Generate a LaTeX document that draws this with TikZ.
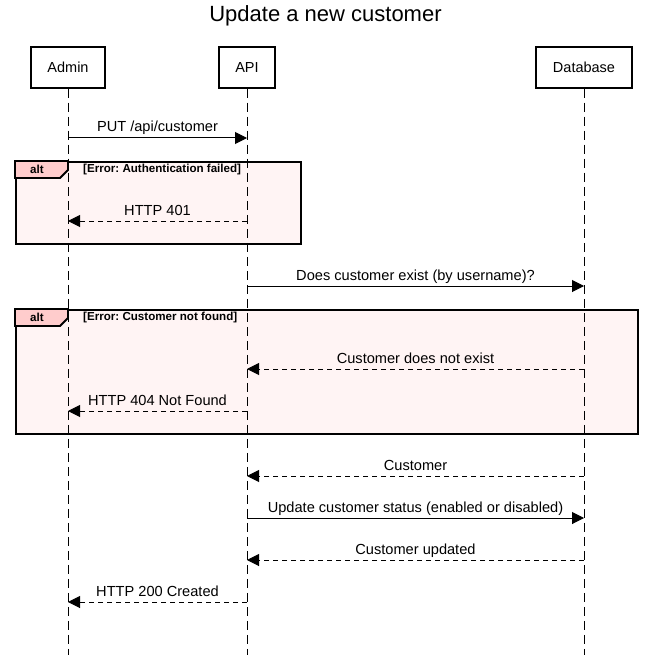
\documentclass[tikz,border=0pt]{standalone}
\usepackage{fontspec}
\setmainfont{Liberation Sans}
\usetikzlibrary{positioning,arrows.meta}
\definecolor{altpink}{RGB}{255,204,204}
\definecolor{altfill}{RGB}{255,244,244}

\begin{document}
\frenchspacing
\begin{tikzpicture}[
      x=1pt, y=-1pt,
      actor/.style={rectangle, draw, line width=1.5pt, minimum height=41pt, inner sep=0pt, font=\fontsize{14.5}{16}\selectfont},
      lifeline/.style={line width=1pt, dash pattern=on 9pt off 5pt},
      call/.style={-{Triangle[length=12pt,width=12pt]}, line width=1pt},
      reply/.style={-{Triangle[length=12pt,width=12pt]}, line width=1pt, dash pattern=on 5pt off 4pt},
      lab/.style={font=\fontsize{14.6}{16}\selectfont, anchor=base, inner sep=0pt, yshift=6pt},
      frame/.style={rectangle, draw, line width=1.8pt, fill=altfill, anchor=north west, inner sep=0pt},
      tab/.style={draw, line width=1.8pt, fill=altpink},
      guard/.style={font=\fontsize{11.6}{13}\selectfont\bfseries, inner sep=0pt}
    ]
    \useasboundingbox (0,0) rectangle (651,655);

    \node[font=\fontsize{22}{26}\selectfont] (title) at (325.5,16) {Update a new customer};

    % alt frames
    \node[frame, minimum width=285pt, minimum height=82pt] (alt1) at (15,161) {};
    \draw[tab] (alt1.north west) -- ++(53,0) -- ++(0,9) -- ++(-8,8) -- ++(-45,0) -- cycle;
    \node[guard] (alt1tag) at ([xshift=22pt, yshift=-8.5pt]alt1.north west) {alt};
    \node[guard, anchor=west] (alt1guard) at ([xshift=68pt, yshift=-8.5pt]alt1.north west) {[Error: Authentication failed]};

    \node[frame, minimum width=622pt, minimum height=124pt] (alt2) at (15,309) {};
    \draw[tab] (alt2.north west) -- ++(53,0) -- ++(0,9) -- ++(-8,8) -- ++(-45,0) -- cycle;
    \node[guard] (alt2tag) at ([xshift=22pt, yshift=-8.5pt]alt2.north west) {alt};
    \node[guard, anchor=west] (alt2guard) at ([xshift=68pt, yshift=-8.5pt]alt2.north west) {[Error: Customer not found]};

    % participants
    \node[actor, minimum width=74pt] (admin) at (68,67.5) {Admin};
    \node[actor, minimum width=56pt] (api) at (247,67.5) {API};
    \node[actor, minimum width=96pt] (db) at (584,67.5) {Database};

    \coordinate (bottom) at (0,655);
    \draw[lifeline] (admin.south) -- (admin |- bottom);
    \draw[lifeline] (api.south) -- (api |- bottom);
    \draw[lifeline] (db.south) -- (db |- bottom);

    % message rows
    \coordinate (r1) at (0,138);
    \coordinate (r2) at (0,221);
    \coordinate (r3) at (0,286);
    \coordinate (r4) at (0,369);
    \coordinate (r5) at (0,411);
    \coordinate (r6) at (0,476);
    \coordinate (r7) at (0,518);
    \coordinate (r8) at (0,560);
    \coordinate (r9) at (0,602);

    \draw[call] (admin |- r1) -- node[lab] {PUT /api/customer} (api |- r1);
    \draw[reply] (api |- r2) -- node[lab] {HTTP 401} (admin |- r2);
    \draw[call] (api |- r3) -- node[lab] {Does customer exist (by username)?} (db |- r3);
    \draw[reply] (db |- r4) -- node[lab] {Customer does not exist} (api |- r4);
    \draw[reply] (api |- r5) -- node[lab] {HTTP 404 Not Found} (admin |- r5);
    \draw[reply] (db |- r6) -- node[lab] {Customer} (api |- r6);
    \draw[call] (api |- r7) -- node[lab] {Update customer status (enabled or disabled)} (db |- r7);
    \draw[reply] (db |- r8) -- node[lab] {Customer updated} (api |- r8);
    \draw[reply] (api |- r9) -- node[lab] {HTTP 200 Created} (admin |- r9);
\end{tikzpicture}
\end{document}
